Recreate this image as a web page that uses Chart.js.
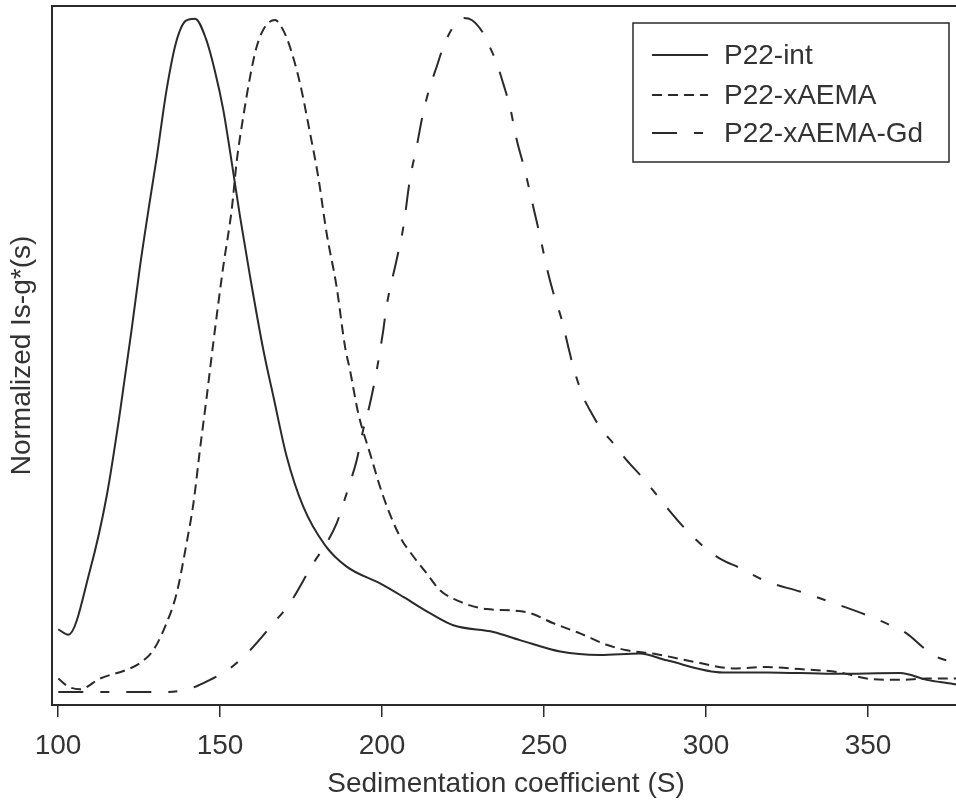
<!DOCTYPE html>
<html>
<head>
<meta charset="utf-8">
<script src="https://cdn.jsdelivr.net/npm/chart.js@4"></script>
<style>
  html, body { margin: 0; padding: 0; background: #fff; overflow: hidden; }
  #wrap { width: 956px; height: 804px; overflow: hidden; }
</style>
</head>
<body>
<div id="wrap"><canvas id="chart" width="960" height="804"></canvas></div>
<script>
var xTicks = [100, 150, 200, 250, 300, 350];

var intX = [100.1, 103.2, 109.9, 115, 119.1, 122.7, 125.3, 128.4, 130.5, 133.5, 136.4, 139.5, 142.3, 145.6, 148.5, 151, 154, 156.2, 159.3, 163.4, 166.5, 170.6, 175.7, 182.4, 189.1, 199.4, 206.6, 214.8, 222, 234.4, 242.6, 255, 267.3, 279.6, 287.9, 305.3, 318.7, 339.3, 359.9, 368.1, 376.3, 378.5];
var intY = [0.093, 0.085, 0.181, 0.290, 0.414, 0.537, 0.631, 0.730, 0.794, 0.893, 0.963, 0.996, 0.999, 0.970, 0.920, 0.864, 0.774, 0.705, 0.616, 0.507, 0.438, 0.349, 0.275, 0.218, 0.186, 0.161, 0.141, 0.117, 0.099, 0.089, 0.077, 0.060, 0.055, 0.057, 0.047, 0.029, 0.029, 0.027, 0.028, 0.018, 0.012, 0.010];

var aemaX = [100.1, 103.2, 106.8, 113, 121.2, 125.3, 129.4, 133.5, 136.6, 139.7, 141.8, 143.8, 145.9, 147.9, 151, 153.6, 155.2, 157.2, 159.3, 161.3, 163.9, 167, 169.5, 171.6, 174.7, 177.8, 180.3, 182.9, 186, 188.6, 190.1, 192.7, 196.3, 200.4, 205.6, 209.7, 213.8, 217.9, 224.1, 232.3, 240.5, 245.7, 252.9, 261.1, 269.3, 275.5, 284.8, 298.1, 308.4, 318.7, 329, 341.4, 349.6, 359.9, 368.1, 376.3, 378.5];
var aemaY = [0.020, 0.008, 0.004, 0.020, 0.033, 0.043, 0.062, 0.102, 0.146, 0.221, 0.280, 0.359, 0.438, 0.517, 0.631, 0.715, 0.789, 0.854, 0.913, 0.957, 0.987, 0.997, 0.982, 0.957, 0.903, 0.829, 0.765, 0.681, 0.601, 0.512, 0.478, 0.413, 0.354, 0.290, 0.230, 0.201, 0.176, 0.151, 0.134, 0.123, 0.121, 0.117, 0.102, 0.087, 0.070, 0.062, 0.056, 0.043, 0.035, 0.037, 0.034, 0.029, 0.020, 0.018, 0.020, 0.020, 0.020];

var gdX = [100.1, 107.8, 123.2, 133.5, 140.7, 146.9, 153.1, 159.3, 166.5, 171.6, 178.8, 182.9, 186, 188.1, 190.1, 192.2, 194.2, 196.3, 198.4, 200.4, 201.4, 204.5, 206.6, 208.6, 210.7, 212.7, 214.8, 216.9, 218.9, 222, 225.1, 227.7, 231.3, 232.8, 235.4, 237.4, 239.5, 241.6, 244.1, 246.2, 248.8, 250.8, 252.9, 255.5, 257.5, 259, 262.1, 264.2, 267.8, 271.4, 275.5, 280.6, 288.9, 294, 299.2, 304.3, 310.5, 318.7, 329, 339.3, 349.6, 357.8, 361.9, 368.1, 372.2, 376.3, 378.5];
var gdY = [0, 0, 0, 0, 0.005, 0.018, 0.035, 0.062, 0.102, 0.132, 0.191, 0.221, 0.250, 0.280, 0.310, 0.344, 0.389, 0.428, 0.478, 0.537, 0.572, 0.641, 0.690, 0.760, 0.809, 0.859, 0.898, 0.928, 0.957, 0.987, 1.0, 0.997, 0.977, 0.962, 0.933, 0.903, 0.868, 0.819, 0.774, 0.730, 0.676, 0.631, 0.592, 0.552, 0.512, 0.483, 0.438, 0.418, 0.389, 0.369, 0.344, 0.317, 0.268, 0.240, 0.216, 0.198, 0.184, 0.164, 0.149, 0.132, 0.114, 0.097, 0.087, 0.062, 0.050, 0.045, 0.042];

var seriesNames = ['P22-int', 'P22-xAEMA', 'P22-xAEMA-Gd'];
var dashes = [[], [10, 6], [25, 17, 9, 17]];

function pts(xs, ys) {
  return xs.map(function (x, i) { return { x: x, y: ys[i] }; });
}

var ink = '#2a2a2a';
var fontFamily = "'Liberation Sans', Arial, Helvetica, sans-serif";
var fontSize = 28;

// box top line + legend drawn by hand, like the R figure
var framePlugin = {
  id: 'frame',
  afterDraw: function (chart) {
    var c = chart.ctx, a = chart.chartArea;
    c.save();
    c.strokeStyle = ink;
    c.lineWidth = 2;
    c.beginPath();
    c.moveTo(a.left, a.top);
    c.lineTo(a.right, a.top);
    c.stroke();

    // legend
    var lx = 633, ly = 23, lw = 316, lh = 139;
    c.fillStyle = '#fff';
    c.fillRect(lx, ly, lw, lh);
    c.lineWidth = 1.5;
    c.strokeRect(lx, ly, lw, lh);
    var rows = [55, 95, 133];
    c.font = fontSize + 'px ' + fontFamily;
    c.textBaseline = 'middle';
    c.textAlign = 'left';
    chart.data.datasets.forEach(function (ds, i) {
      c.setLineDash(ds.borderDash || []);
      c.lineWidth = 2;
      c.beginPath();
      c.moveTo(652, rows[i]);
      c.lineTo(708, rows[i]);
      c.stroke();
      c.setLineDash([]);
      c.fillStyle = '#333';
      c.fillText(ds.label, 724, rows[i] + 1);
    });
    c.restore();
  }
};

var ctx = document.getElementById('chart').getContext('2d');

var myChart = new Chart(ctx, {
  type: 'line',
  data: {
    datasets: [
      { label: seriesNames[0], data: pts(intX, intY), borderDash: dashes[0] },
      { label: seriesNames[1], data: pts(aemaX, aemaY), borderDash: dashes[1] },
      { label: seriesNames[2], data: pts(gdX, gdY), borderDash: dashes[2] }
    ]
  },
  options: {
    responsive: false,
    animation: false,
    devicePixelRatio: 1,
    layout: { padding: { top: 6, left: 0, right: 0, bottom: 0 } },
    elements: {
      point: { radius: 0 },
      line: { borderColor: ink, borderWidth: 2, cubicInterpolationMode: 'monotone', fill: false }
    },
    plugins: {
      legend: { display: false },
      tooltip: { enabled: false }
    },
    scales: {
      x: {
        type: 'linear',
        min: 98.15,
        max: 378.4,
        afterBuildTicks: function (s) {
          s.ticks = xTicks.map(function (v) { return { value: v }; });
        },
        afterFit: function (s) { s.height = 99; },
        grid: { display: true, drawOnChartArea: false, drawTicks: true, tickLength: 12, color: ink, lineWidth: 1.5 },
        border: { display: true, color: ink, width: 2 },
        ticks: { color: '#333', font: { family: fontFamily, size: fontSize }, padding: 12, maxRotation: 0 },
        title: { display: true, text: 'Sedimentation coefficient (S)', color: '#333', font: { family: fontFamily, size: fontSize }, padding: { top: 0, bottom: 3 } }
      },
      y: {
        min: -0.0193,
        max: 1.0178,
        afterFit: function (s) { s.width = 52; },
        grid: { display: false },
        border: { display: true, color: ink, width: 2 },
        ticks: { display: false },
        title: { display: true, text: 'Normalized Is-g*(s)', color: '#333', font: { family: fontFamily, size: fontSize }, padding: { top: 5, bottom: 0 } }
      }
    }
  },
  plugins: [framePlugin]
});
</script>
</body>
</html>
